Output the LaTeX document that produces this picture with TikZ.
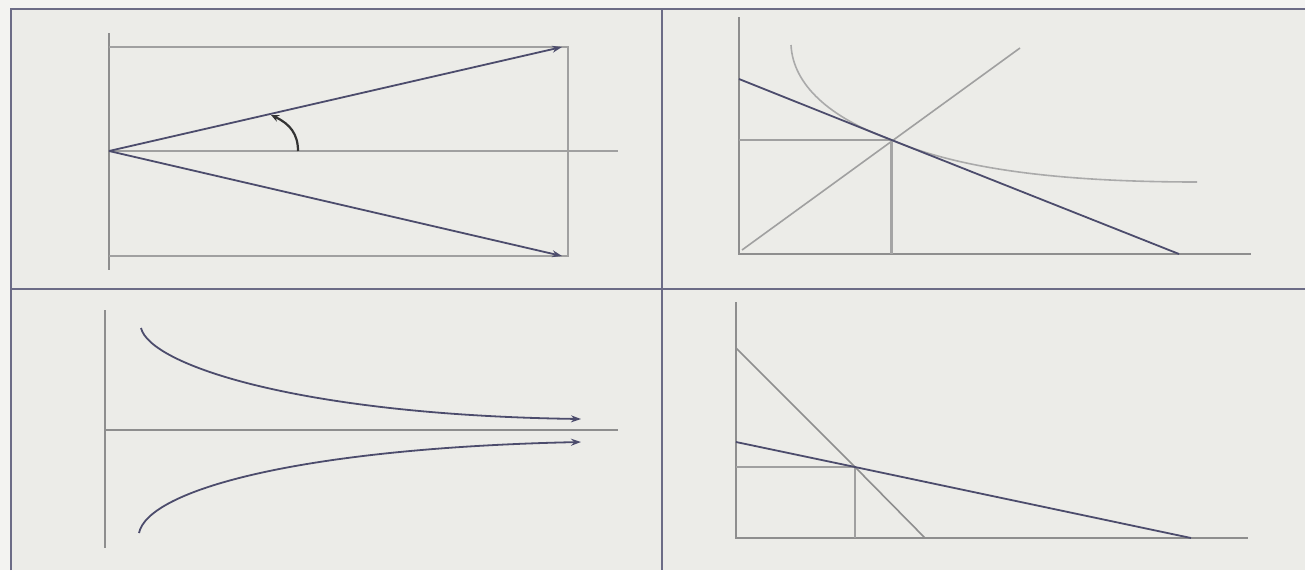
\documentclass[tikz,border=0pt]{standalone}
\usetikzlibrary{arrows.meta}
\definecolor{paper}{HTML}{F3F3F1}
\definecolor{panel}{HTML}{ECECE8}
\definecolor{frame}{HTML}{6C6C86}
\definecolor{axis}{HTML}{8E8E8E}
\definecolor{ink}{HTML}{4C4C6C}
\definecolor{soft}{HTML}{A0A0A0}
\tikzset{
  frameline/.style={draw=frame, line width=2.6pt},
  axisline/.style={draw=axis, line width=2pt},
  thinline/.style={draw=soft, line width=1.6pt},
  inkline/.style={draw=ink, line width=1.8pt},
  tip/.style={-{Stealth[length=10pt,width=7pt]}},
}
\begin{document}
\begin{tikzpicture}[x=1pt,y=-1pt]
\useasboundingbox (0,0) rectangle (1305,570);
\fill[paper] (0,0) rectangle (1305,570);
\fill[panel] (11,9) rectangle (1305,570);
% frame
\draw[frameline] (11,570) -- (11,9) -- (1305,9);
\draw[frameline] (662,9) -- (662,570);
\draw[frameline] (11,289) -- (1305,289);

% ---------- top-left panel ----------
\coordinate (O1) at (109,151);
\coordinate (A1) at (562,47);
\coordinate (B1) at (562,256);
\draw[axisline] (109,33) -- (109,270);
\draw[thinline] (109,47) -- (568,47) -- (568,256) -- (109,256);
\draw[thinline] (O1) -- (618,151);
\draw[inkline,tip] (O1) -- (A1);
\draw[inkline,tip] (O1) -- (B1);
\coordinate (arcS) at (298,151);
\coordinate (arcE) at (271,115);
\draw[draw=black!80, line width=2.2pt, -{Stealth[length=8pt,width=7pt]}] (arcS) .. controls (298,134) and (290,124) .. (arcE);

% ---------- top-right panel ----------
\coordinate (O2) at (739,254);
\coordinate (E2) at (891.6,140);
\draw[axisline] (739,17) -- (O2) -- (1251,254);
\draw[thinline] (742,250) -- (1020,48);
\draw[thinline] (739,140) -- (E2);
\draw[draw=axis!80, line width=2.6pt] (E2) -- (891.6,254);
\draw[draw=soft!90, line width=1.6pt] (791,45) .. controls (793,85) and (830,118) .. (E2) .. controls (950,165) and (1040,182) .. (1197,182);
\draw[inkline] (739,79) -- (E2) -- (1179,254);

% ---------- bottom-left panel ----------
\coordinate (U0) at (141,328);
\coordinate (U1) at (581,419);
\coordinate (L0) at (139,533);
\coordinate (L1) at (581,442);
\draw[axisline] (105,310) -- (105,548);
\draw[axisline, line width=1.7pt] (105,430) -- (618,430);
\draw[inkline,tip] (U0) .. controls (150,365) and (300,415) .. (U1);
\draw[inkline,tip] (L0) .. controls (148,490) and (300,448) .. (L1);

% ---------- bottom-right panel ----------
\coordinate (O4) at (736,538);
\coordinate (E4) at (855,467);
\draw[axisline] (736,302) -- (O4) -- (1248,538);
\draw[thinline] (736,467) -- (E4) -- (855,538);
\draw[thinline, draw=axis] (736,348) -- (E4) -- (925,538);
\draw[inkline] (736,442) -- (E4) -- (1191,538);
\end{tikzpicture}
\end{document}
